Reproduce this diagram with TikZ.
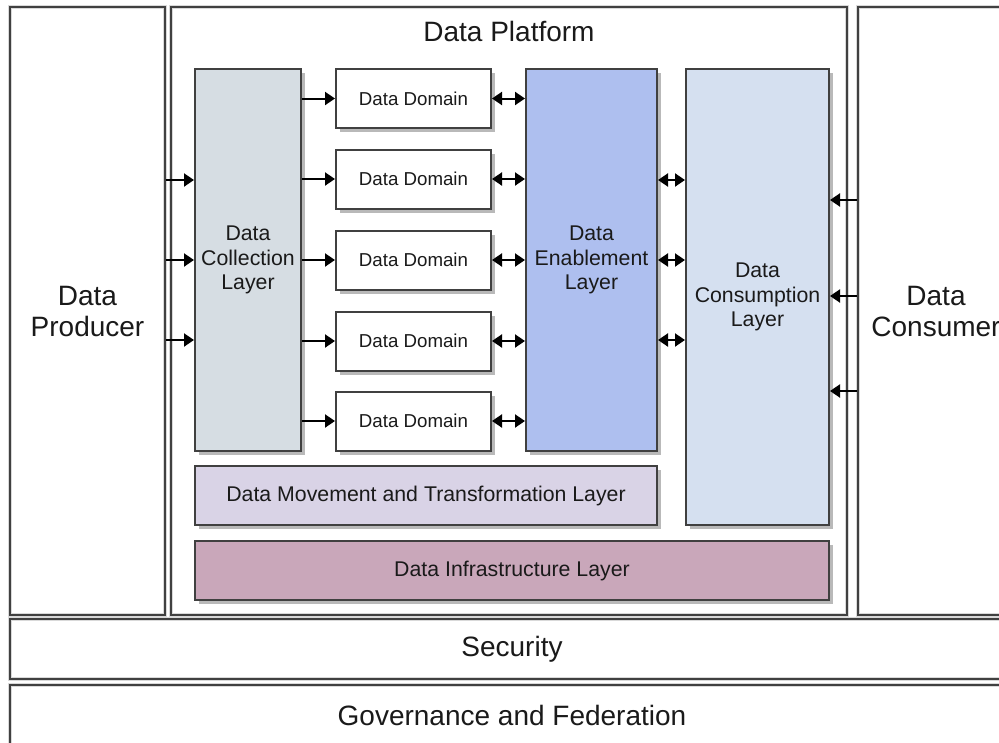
\documentclass[tikz,border=0pt]{standalone}
\usepackage{fontspec}
\setmainfont{Liberation Sans}
\usetikzlibrary{arrows.meta,shadows}
\definecolor{linec}{HTML}{404040}
\definecolor{collc}{HTML}{D6DDE3}
\definecolor{enc}{HTML}{AEBFEF}
\definecolor{conc}{HTML}{D5E0F0}
\definecolor{movc}{HTML}{D9D3E6}
\definecolor{infc}{HTML}{C9A7BA}
\definecolor{txtc}{HTML}{1A1A1A}
\tikzset{
  outerbox/.style={draw=linec, line width=1.6pt, inner sep=0pt, text=txtc,
    preaction={draw=gray!30, line width=4pt},
    font=\fontsize{28}{31}\selectfont, align=center},
  layerbox/.style={draw=linec, line width=2pt, inner sep=0pt, text=txtc,
    drop shadow={shadow xshift=4pt, shadow yshift=-4pt, fill=gray!55, opacity=1},
    font=\fontsize{21.3}{24.5}\selectfont, align=center},
  dombox/.style={layerbox, fill=white, font=\fontsize{18.7}{22}\selectfont},
  tip/.tip={Triangle[length=10pt,width=13pt]},
  arr/.style={draw=black, line width=2pt, -tip},
  darr/.style={draw=black, line width=2pt, tip-tip},
}
\begin{document}
\begin{tikzpicture}[x=1pt,y=-1pt]
\useasboundingbox (0,0) rectangle (999,742);
\clip (0,0) rectangle (999,742);
\fill[white] (0,0) rectangle (999,742);
% outer frames
\node[outerbox, minimum width=155pt, minimum height=608pt] (prod) at (87.5,311) {Data\\Producer};
\node[outerbox, minimum width=676pt, minimum height=608pt] (plat) at (509,311) {};
\node[font=\fontsize{28}{31}\selectfont, text=txtc] (plattitle) at (509,31) {Data Platform};
\node[outerbox, minimum width=156pt, minimum height=608pt] (cons) at (936,311) {Data\\Consumer};
\node[outerbox, minimum width=1004pt, minimum height=60pt] (sec) at (512,649) {Security};
\node[outerbox, minimum width=1004pt, minimum height=60pt] (gov) at (512,715) {Governance and Federation};
% layers
\node[layerbox, fill=collc, minimum width=106pt, minimum height=382pt] (coll) at (248,260) {Data\\Collection\\Layer};
\node[layerbox, fill=enc, minimum width=131pt, minimum height=382pt] (en) at (591.5,260) {Data\\Enablement\\Layer};
\node[layerbox, fill=conc, minimum width=143pt, minimum height=456pt] (conl) at (757.5,297) {Data\\Consumption\\Layer};
\node[layerbox, fill=movc, minimum width=462pt, minimum height=59pt] (mov) at (426,495.5) {Data Movement and Transformation Layer};
\node[layerbox, fill=infc, minimum width=634pt, minimum height=59pt] (inf) at (512,570.5) {Data Infrastructure Layer};
% domains
\foreach \i/\y in {1/98.5,2/179,3/260,4/341,5/421}{
  \node[dombox, minimum width=155pt, minimum height=59pt] (dom\i) at (413.5,\y) {Data Domain};
}
% arrows
\foreach \y in {180,260,340}{
  \draw[arr] (prod.east |- 0,\y) -- (coll.west |- 0,\y);
  \draw[darr] (en.east |- 0,\y) -- (conl.west |- 0,\y);
}
\foreach \i in {1,...,5}{
  \draw[arr] (coll.east |- dom\i) -- (dom\i.west);
  \draw[darr] (dom\i.east) -- (en.west |- dom\i);
}
\foreach \y in {200,296,391}{
  \draw[arr] (cons.west |- 0,\y) -- (conl.east |- 0,\y);
}
\end{tikzpicture}
\end{document}
